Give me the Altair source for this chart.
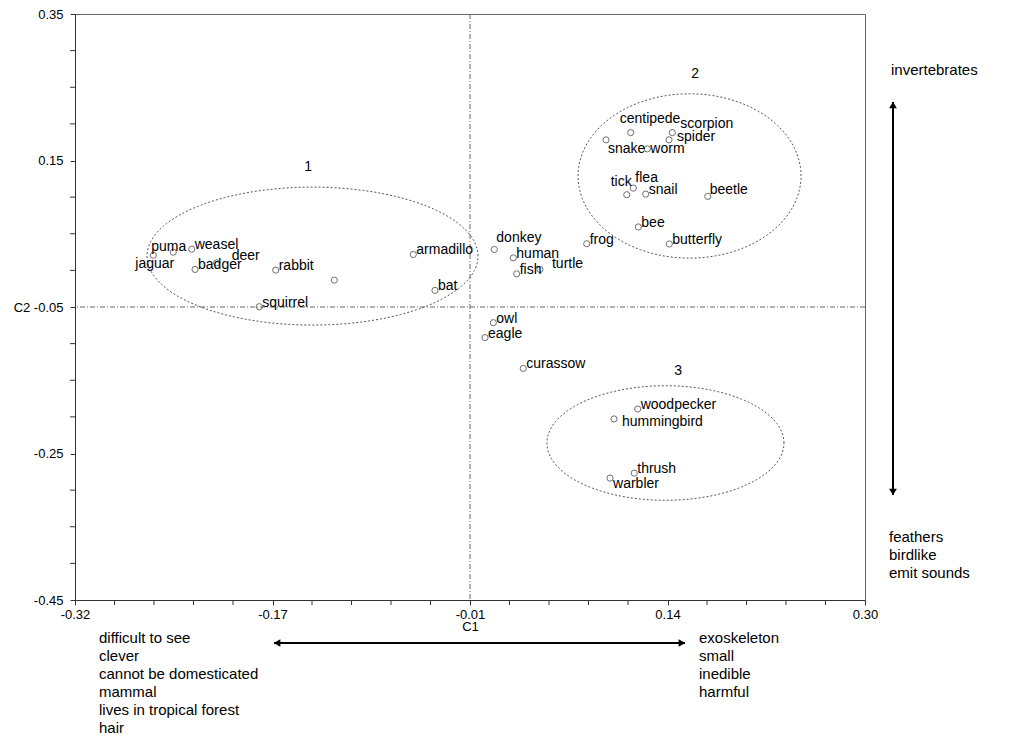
import altair as alt
import pandas as pd
import numpy as np

# ---------------- data ----------------
animals = ["jaguar", "puma", "weasel", "badger", "deer", "rabbit", "", "squirrel",
           "armadillo", "bat", "donkey", "human", "fish", "turtle", "frog", "owl",
           "eagle", "curassow", "snake", "centipede", "scorpion", "spider", "worm",
           "tick", "flea", "snail", "beetle", "bee", "butterfly", "woodpecker",
           "hummingbird", "thrush", "warbler"]
c1 = [-0.2585, -0.2429, -0.2284, -0.2258, -0.2088, -0.1625, -0.1165, -0.1754,
      -0.0545, -0.0375, 0.0091, 0.0240, 0.0266, 0.0449, 0.0816, 0.0083,
      0.0018, 0.0318, 0.0967, 0.1161, 0.1488, 0.1462, 0.1292,
      0.1130, 0.1182, 0.1279, 0.1766, 0.1221, 0.1464, 0.1216,
      0.1030, 0.1189, 0.0999]
c2 = [0.0207, 0.0248, 0.0289, 0.0013, 0.0103, 0.0003, -0.0133, -0.0496,
      0.0217, -0.0273, 0.0285, 0.0171, -0.0047, 0.0013, 0.0364, -0.0714,
      -0.0918, -0.1339, 0.1782, 0.1881, 0.1881, 0.1782, 0.1659,
      0.1033, 0.1123, 0.1041, 0.1010, 0.0593, 0.0361, -0.1892,
      -0.2028, -0.2768, -0.2836]

cluster_names = ["1", "2", "3"]
cluster_cx = [-0.1336, 0.1623, 0.1434]
cluster_cy = [0.0195, 0.1289, -0.2357]
cluster_rx = [0.1299, 0.0875, 0.0930]
cluster_ry = [0.0942, 0.1122, 0.0782]
cluster_label_x = [-0.1371, 0.1666, 0.1533]
cluster_label_y = [0.1405, 0.2684, -0.1371]

x_ticks_major = [-0.32, -0.165, -0.01, 0.145, 0.30]
x_tick_labels = ["-0.32", "-0.17", "-0.01", "0.14", "0.30"]
y_ticks_major = [0.35, 0.15, -0.05, -0.25, -0.45]
y_tick_labels = ["0.35", "0.15", "C2 -0.05", "-0.25", "-0.45"]
x_ticks_minor = [round(-0.32 + 0.031 * k, 4) for k in range(21) if k % 5]
y_ticks_minor = [round(-0.45 + 0.05 * k, 4) for k in range(17) if k % 4]

left_text = ["difficult to see", "clever", "cannot be domesticated", "mammal",
             "lives in tropical forest", "hair"]
right_text = ["exoskeleton", "small", "inedible", "harmful"]
top_text = ["invertebrates"]
bottom_text = ["feathers", "birdlike", "emit sounds"]

# label placement (pixel offsets, style only)
default_off = (3, -4)
label_off = {"puma": (-22, -5), "jaguar": (-18, 9), "deer": (15, -7), "donkey": (2, -11),
             "turtle": (12, -5), "centipede": (-11, -14), "scorpion": (8, -9),
             "spider": (8, -3), "snake": (2, 9), "worm": (3, 0), "tick": (-16, -13),
             "flea": (2, -10), "beetle": (2, -6), "hummingbird": (8, 3),
             "warbler": (3, 6)}

FONT = "Liberation Sans"
TOP = 6
W, H = 790, 586

df = pd.DataFrame({"animal": animals, "C1": c1, "C2": c2})
df["off"] = [str(label_off.get(a, default_off)) for a in animals]

xs = alt.Scale(domain=[-0.32, 0.30], nice=False, zero=False)
ys = alt.Scale(domain=[-0.45, 0.35], nice=False, zero=False)


def label_expr(majors, labels):
    expr = "''"
    for v, l in reversed(list(zip(majors, labels))):
        expr = f"abs(datum.value - ({v})) < 0.000001 ? '{l}' : " + expr
    return expr


x_axis = alt.Axis(values=x_ticks_major, labelExpr=label_expr(x_ticks_major, x_tick_labels),
                  grid=False, tickSize=5, labelPadding=3, labelFontSize=13,
                  labelFont=FONT, labelColor="#000", domainColor="#333", tickColor="#333",
                  title="C1", titleFont=FONT, titleFontSize=13, titleFontWeight="normal",
                  titlePadding=-1, titleColor="#000", labelFlush=False, labelOverlap=False)
y_axis = alt.Axis(values=y_ticks_major, labelExpr=label_expr(y_ticks_major, y_tick_labels),
                  grid=False, tickSize=5, labelPadding=7, labelFontSize=13,
                  labelFont=FONT, labelColor="#000", domainColor="#333", tickColor="#333",
                  title=None, labelFlush=False, labelOverlap=False)

base = alt.Chart(df)

points = base.mark_point(shape="circle", size=38, filled=False, stroke="#333",
                         strokeWidth=1).encode(
    x=alt.X("C1:Q", scale=xs, axis=x_axis),
    y=alt.Y("C2:Q", scale=ys, axis=y_axis),
)

# minor ticks drawn through the same scales
xminor = alt.Chart(pd.DataFrame({"t": x_ticks_minor})).mark_rule(
    color="#333", strokeWidth=1).encode(x=alt.X("t:Q", scale=xs), y=alt.value(H), y2=alt.value(H + 5))
yminor = alt.Chart(pd.DataFrame({"t": y_ticks_minor})).mark_rule(
    color="#333", strokeWidth=1).encode(y=alt.Y("t:Q", scale=ys), x=alt.value(-5), x2=alt.value(0))

label_layers = []
for off in sorted(set(df["off"])):
    dx, dy = eval(off)
    label_layers.append(
        base.transform_filter(alt.datum.off == off).mark_text(
            align="left", baseline="middle", dx=dx, dy=dy, font=FONT, fontSize=14,
            color="#000").encode(x=alt.X("C1:Q", scale=xs), y=alt.Y("C2:Q", scale=ys),
                                 text="animal:N"))

# reference lines
vline = alt.Chart(pd.DataFrame({"x": [-0.01]})).mark_rule(
    color="#666", strokeWidth=1, strokeDash=[5, 2, 1, 2]).encode(x=alt.X("x:Q", scale=xs))
hline = alt.Chart(pd.DataFrame({"y": [-0.05]})).mark_rule(
    color="#666", strokeWidth=1, strokeDash=[5, 2, 1, 2]).encode(y=alt.Y("y:Q", scale=ys))

# ellipses
rows = []
t = np.linspace(0, 2 * np.pi, 181)
for name, cx, cy, rx, ry in zip(cluster_names, cluster_cx, cluster_cy, cluster_rx, cluster_ry):
    for i, tt in enumerate(t):
        rows.append({"cluster": name, "i": i, "ex": cx + rx * np.cos(tt), "ey": cy + ry * np.sin(tt)})
ell_df = pd.DataFrame(rows)
ellipses = alt.Chart(ell_df).mark_line(color="#555", strokeWidth=1, strokeDash=[2, 2]).encode(
    x=alt.X("ex:Q", scale=xs), y=alt.Y("ey:Q", scale=ys), detail="cluster:N", order="i:Q")

clab = alt.Chart(pd.DataFrame({"name": cluster_names, "lx": cluster_label_x,
                               "ly": cluster_label_y})).mark_text(
    font=FONT, fontSize=14, color="#000", align="center", baseline="middle").encode(
    x=alt.X("lx:Q", scale=xs), y=alt.Y("ly:Q", scale=ys), text="name:N")

# annotations outside the plot (pixel offsets from plot origin)
oy = 12 - (8 + TOP)
one = alt.Chart(pd.DataFrame({"a": [0]}))
harrow = one.mark_rule(color="#000", strokeWidth=2).encode(
    x=alt.value(199), x2=alt.value(610), y=alt.value(631 + oy))
hhead_l = one.mark_point(shape="triangle-left", filled=True, color="#000", size=60, opacity=1).encode(
    x=alt.value(202), y=alt.value(631 + oy))
hhead_r = one.mark_point(shape="triangle-right", filled=True, color="#000", size=60, opacity=1).encode(
    x=alt.value(607), y=alt.value(631 + oy))
varrow = one.mark_rule(color="#000", strokeWidth=2).encode(
    x=alt.value(818), y=alt.value(90 + oy), y2=alt.value(483 + oy))
vhead_u = one.mark_point(shape="triangle-up", filled=True, color="#000", size=60, opacity=1).encode(
    x=alt.value(818), y=alt.value(93 + oy))
vhead_d = one.mark_point(shape="triangle-down", filled=True, color="#000", size=60, opacity=1).encode(
    x=alt.value(818), y=alt.value(480 + oy))

txt_style = dict(font=FONT, fontSize=15, color="#000", align="left", baseline="top", lineHeight=18)
t_left = one.mark_text(**txt_style).encode(x=alt.value(24), y=alt.value(619 + oy), text=alt.value(left_text))
t_right = one.mark_text(**txt_style).encode(x=alt.value(624), y=alt.value(619 + oy), text=alt.value(right_text))
t_top = one.mark_text(**txt_style).encode(x=alt.value(816), y=alt.value(51 + oy), text=alt.value(top_text))
t_bot = one.mark_text(**txt_style).encode(x=alt.value(814), y=alt.value(518 + oy), text=alt.value(bottom_text))

chart = alt.layer(
    vline, hline, ellipses, xminor, yminor, points, *label_layers, clab,
    harrow, hhead_l, hhead_r, varrow, vhead_u, vhead_d,
    t_left, t_right, t_top, t_bot,
).properties(
    width=W, height=H,
    autosize=alt.AutoSizeParams(type="none"),
    padding={"left": 67, "top": TOP, "right": 140, "bottom": 139},
    background="white",
).configure_view(stroke="#666", strokeWidth=1).configure_axis(labelOverlap=False)

chart.save("out.html", embed_options={"renderer": "svg", "actions": False})
